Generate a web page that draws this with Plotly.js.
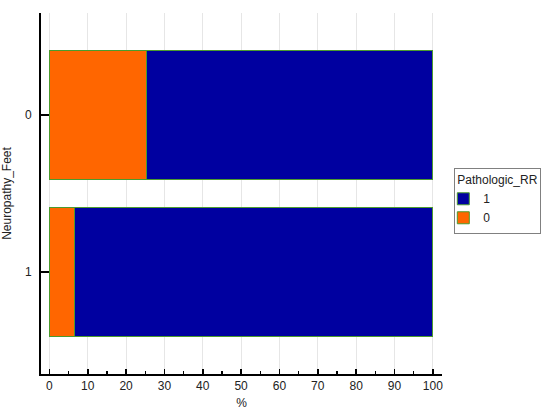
<!DOCTYPE html>
<html>
<head>
<meta charset="utf-8">
<script src="https://cdn.plot.ly/plotly-3.0.1.min.js"></script>
<style>
  body { margin: 0; background: #fff; }
  #chart { width: 550px; height: 414px; }
</style>
</head>
<body>
<div id="chart"></div>
<script>
// rows of the chart
const categories = ['0', '1'];
// percentage of each group
const pctRR0 = [25.4, 6.5];
const pctRR1 = [74.6, 93.5];
const xTicks = [0, 10, 20, 30, 40, 50, 60, 70, 80, 90, 100];

function drawStackedBars() {
    var barLine = { color: '#4b9b2e', width: 1 };

    var trace0 = {
        y: categories,
        x: pctRR0,
        type: 'bar',
        orientation: 'h',
        name: '0',
        width: 0.82,
        hoverinfo: 'none',
        marker: { color: '#ff6600', line: barLine }
    };

    var trace1 = {
        y: categories,
        x: pctRR1,
        type: 'bar',
        orientation: 'h',
        name: '1',
        width: 0.82,
        hoverinfo: 'none',
        marker: { color: '#0000a0', line: barLine }
    };

    var layout = {
        width: 550,
        height: 414,
        barmode: 'stack',
        font: { family: 'Liberation Sans, Arial, sans-serif', size: 12, color: '#222' },
        margin: { l: 41, r: 108, t: 13, b: 40 },
        plot_bgcolor: '#fff',
        paper_bgcolor: '#fff',
        xaxis: {
            range: [-2.2, 102.4],
            tickvals: xTicks,
            ticks: 'inside',
            ticklen: 5,
            tickwidth: 1.5,
            tickcolor: '#000',
            minor: { dtick: 5, ticks: 'inside', ticklen: 3, tickcolor: '#000', showgrid: false },
            showline: true,
            linecolor: '#000',
            linewidth: 2,
            showgrid: true,
            gridcolor: '#e6e6e6',
            zeroline: false,
            automargin: false,
            title: { text: '%', standoff: 6, font: { size: 12 } }
        },
        yaxis: {
            type: 'category',
            range: [1.65, -0.65],
            ticks: 'inside',
            ticklen: 8,
            tickwidth: 1.5,
            tickcolor: '#000',
            ticklabelstandoff: 5,
            showline: true,
            linecolor: '#000',
            linewidth: 2,
            showgrid: false,
            zeroline: false,
            automargin: false,
            title: { text: 'Neuropathy_Feet', standoff: 12, font: { size: 12 } }
        },
        showlegend: true,
        legend: {
            xref: 'container',
            yref: 'container',
            x: 0.826,
            y: 0.595,
            xanchor: 'left',
            yanchor: 'top',
            traceorder: 'reversed',
            bordercolor: '#808080',
            borderwidth: 1,
            indentation: -12,
            title: { text: 'Pathologic_RR', font: { size: 12 } },
            font: { size: 12 },
            itemwidth: 30
        }
    };

    Plotly.newPlot('chart', [trace0, trace1], layout, { displayModeBar: false, staticPlot: true });
}

drawStackedBars();
</script>
</body>
</html>
